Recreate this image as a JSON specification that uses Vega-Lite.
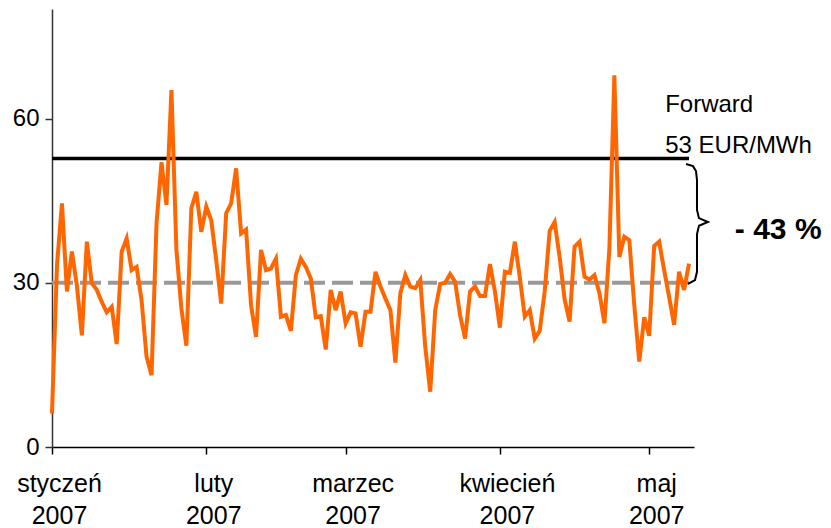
{
  "$schema": "https://vega.github.io/schema/vega-lite/v6.json",
  "width": 642,
  "height": 438,
  "autosize": {"type": "none"},
  "padding": {"left": 52, "top": 9, "right": 137, "bottom": 81},
  "background": "white",
  "config": {
    "view": {"stroke": null},
    "font": "Liberation Sans, Arial, sans-serif",
    "axis": {"labelFont": "Liberation Sans, Arial, sans-serif", "labelColor": "black"}
  },
  "datasets": {
    "prices": [
      {"date":"2007/01/01","price":6.1},{"date":"2007/01/02","price":33.2},{"date":"2007/01/03","price":44.5},{"date":"2007/01/04","price":28.4},{"date":"2007/01/05","price":35.7},{"date":"2007/01/06","price":29.5},{"date":"2007/01/07","price":20.4},{"date":"2007/01/08","price":37.5},{"date":"2007/01/09","price":29.9},{"date":"2007/01/10","price":28.7},{"date":"2007/01/11","price":26.5},{"date":"2007/01/12","price":24.6},{"date":"2007/01/13","price":25.6},{"date":"2007/01/14","price":18.8},{"date":"2007/01/15","price":35.7},{"date":"2007/01/16","price":38.1},{"date":"2007/01/17","price":32.3},{"date":"2007/01/18","price":32.9},{"date":"2007/01/19","price":26.8},{"date":"2007/01/20","price":16.5},{"date":"2007/01/21","price":13.1},{"date":"2007/01/22","price":40.8},{"date":"2007/01/23","price":52.0},{"date":"2007/01/24","price":44.2},{"date":"2007/01/25","price":65.2},{"date":"2007/01/26","price":36.0},{"date":"2007/01/27","price":25.3},{"date":"2007/01/28","price":18.5},{"date":"2007/01/29","price":43.6},{"date":"2007/01/30","price":46.6},{"date":"2007/01/31","price":39.3},
      {"date":"2007/02/01","price":43.9},{"date":"2007/02/02","price":41.4},{"date":"2007/02/03","price":34.1},{"date":"2007/02/04","price":26.2},{"date":"2007/02/05","price":42.7},{"date":"2007/02/06","price":44.5},{"date":"2007/02/07","price":50.9},{"date":"2007/02/08","price":39.0},{"date":"2007/02/09","price":39.7},{"date":"2007/02/10","price":25.9},{"date":"2007/02/11","price":20.1},{"date":"2007/02/12","price":36.0},{"date":"2007/02/13","price":32.3},{"date":"2007/02/14","price":32.6},{"date":"2007/02/15","price":34.4},{"date":"2007/02/16","price":23.8},{"date":"2007/02/17","price":24.1},{"date":"2007/02/18","price":21.2},{"date":"2007/02/19","price":31.4},{"date":"2007/02/20","price":34.4},{"date":"2007/02/21","price":32.9},{"date":"2007/02/22","price":30.8},{"date":"2007/02/23","price":23.7},{"date":"2007/02/24","price":23.9},{"date":"2007/02/25","price":17.8},{"date":"2007/02/26","price":28.7},{"date":"2007/02/27","price":25.0},{"date":"2007/02/28","price":28.4},
      {"date":"2007/03/01","price":22.6},{"date":"2007/03/02","price":24.6},{"date":"2007/03/03","price":24.4},{"date":"2007/03/04","price":18.3},{"date":"2007/03/05","price":24.7},{"date":"2007/03/06","price":24.7},{"date":"2007/03/07","price":32.0},{"date":"2007/03/08","price":29.3},{"date":"2007/03/09","price":27.1},{"date":"2007/03/10","price":25.0},{"date":"2007/03/11","price":15.4},{"date":"2007/03/12","price":28.1},{"date":"2007/03/13","price":31.4},{"date":"2007/03/14","price":29.3},{"date":"2007/03/15","price":29.0},{"date":"2007/03/16","price":30.5},{"date":"2007/03/17","price":18.3},{"date":"2007/03/18","price":10.1},{"date":"2007/03/19","price":25.0},{"date":"2007/03/20","price":29.8},{"date":"2007/03/21","price":30.0},{"date":"2007/03/22","price":31.6},{"date":"2007/03/23","price":30.2},{"date":"2007/03/24","price":24.1},{"date":"2007/03/25","price":19.8},{"date":"2007/03/26","price":28.4},{"date":"2007/03/27","price":29.3},{"date":"2007/03/28","price":27.6},{"date":"2007/03/29","price":27.6},{"date":"2007/03/30","price":33.4},{"date":"2007/03/31","price":28.4},
      {"date":"2007/04/01","price":21.8},{"date":"2007/04/02","price":32.0},{"date":"2007/04/03","price":31.8},{"date":"2007/04/04","price":37.5},{"date":"2007/04/05","price":31.0},{"date":"2007/04/06","price":23.8},{"date":"2007/04/07","price":25.0},{"date":"2007/04/08","price":19.8},{"date":"2007/04/09","price":21.2},{"date":"2007/04/10","price":28.4},{"date":"2007/04/11","price":39.5},{"date":"2007/04/12","price":41.1},{"date":"2007/04/13","price":34.7},{"date":"2007/04/14","price":27.0},{"date":"2007/04/15","price":22.9},{"date":"2007/04/16","price":36.6},{"date":"2007/04/17","price":37.5},{"date":"2007/04/18","price":31.1},{"date":"2007/04/19","price":30.6},{"date":"2007/04/20","price":31.4},{"date":"2007/04/21","price":28.1},{"date":"2007/04/22","price":22.6},{"date":"2007/04/23","price":36.3},{"date":"2007/04/24","price":67.9},{"date":"2007/04/25","price":34.7},{"date":"2007/04/26","price":38.4},{"date":"2007/04/27","price":37.8},{"date":"2007/04/28","price":25.9},{"date":"2007/04/29","price":15.6},{"date":"2007/04/30","price":23.7},
      {"date":"2007/05/01","price":20.3},{"date":"2007/05/02","price":36.7},{"date":"2007/05/03","price":37.5},{"date":"2007/05/04","price":32.3},{"date":"2007/05/05","price":27.4},{"date":"2007/05/06","price":22.3},{"date":"2007/05/07","price":32.0},{"date":"2007/05/08","price":28.7},{"date":"2007/05/09","price":33.5}
    ],
    "levels": [
      {"name":"forward","start":"2007/01/01","end":"2007/05/09","value":52.7},
      {"name":"average","start":"2007/01/01","end":"2007/05/10","value":30}
    ],
    "brace": [
      {"i":1,"date":"2007/05/08 09:36","v":51.7},
      {"i":2,"date":"2007/05/09 19:12","v":51.3},
      {"i":3,"date":"2007/05/10 09:36","v":50.4},
      {"i":4,"date":"2007/05/10 14:24","v":48.8},
      {"i":5,"date":"2007/05/10 14:24","v":43.3},
      {"i":6,"date":"2007/05/11 00:00","v":41.8},
      {"i":7,"date":"2007/05/12 19:12","v":41.1},
      {"i":8,"date":"2007/05/11 00:00","v":40.4},
      {"i":9,"date":"2007/05/10 14:24","v":38.9},
      {"i":10,"date":"2007/05/10 14:24","v":32.0},
      {"i":11,"date":"2007/05/10 04:48","v":30.5},
      {"i":12,"date":"2007/05/08 19:12","v":29.8}
    ],
    "notes": [
      {"text":"Forward","date":"2007/05/04 05:00","v":61.2,"kind":"plain"},
      {"text":"53 EUR/MWh","date":"2007/05/04 05:00","v":53.7,"kind":"plain"},
      {"text":"- 43 %","date":"2007/05/18 05:00","v":38.0,"kind":"bold"}
    ]
  },
  "layer": [
    {
      "data": {"name": "levels"},
      "transform": [{"filter": "datum.name === 'average'"}],
      "mark": {"type": "rule", "color": "#999999", "strokeWidth": 4, "strokeDash": [21, 7]},
      "encoding": {
        "x": {"field": "start", "type": "temporal",
          "scale": {"domain": [{"year":2007,"month":1,"date":1},{"year":2007,"month":5,"date":10}]},
          "axis": {
            "title": null,
            "grid": false,
            "values": [{"year":2007,"month":1,"date":1},{"year":2007,"month":2,"date":1},{"year":2007,"month":3,"date":1},{"year":2007,"month":4,"date":1},{"year":2007,"month":5,"date":1}],
            "labelExpr": "[['styczeń','luty','marzec','kwiecień','maj'][month(datum.value)], '2007']",
            "labelFontSize": 25,
            "labelLineHeight": 32,
            "labelBaseline": "top",
            "labelPadding": 17,
            "labelOffset": 7,
            "labelFlush": false,
            "labelOverlap": false,
            "labelBound": false,
            "domainColor": "black",
            "domainWidth": 1.5,
            "tickColor": "black",
            "tickWidth": 1.5,
            "tickSize": 7
          }
        },
        "x2": {"field": "end"},
        "y": {"field": "value", "type": "quantitative",
          "scale": {"domain": [0, 80], "nice": false},
          "axis": {
            "title": null,
            "grid": false,
            "values": [0, 30, 60],
            "labelFontSize": 24,
            "labelPadding": 6,
            "labelDy": 1,
            "domainColor": "#333333",
            "domainWidth": 1.5,
            "tickColor": "#333333",
            "tickWidth": 1.5,
            "tickSize": 7
          }
        }
      }
    },
    {
      "data": {"name": "levels"},
      "transform": [{"filter": "datum.name === 'forward'"}],
      "mark": {"type": "rule", "color": "black", "strokeWidth": 3.5},
      "encoding": {
        "x": {"field": "start", "type": "temporal"},
        "x2": {"field": "end"},
        "y": {"field": "value", "type": "quantitative"}
      }
    },
    {
      "data": {"name": "prices"},
      "mark": {"type": "line", "color": "#ff6600", "strokeWidth": 4, "strokeJoin": "miter", "strokeMiterLimit": 4},
      "encoding": {
        "x": {"field": "date", "type": "temporal"},
        "y": {"field": "price", "type": "quantitative"}
      }
    },
    {
      "data": {"name": "brace"},
      "mark": {"type": "line", "color": "black", "strokeWidth": 2, "interpolate": "linear", "clip": false},
      "encoding": {
        "x": {"field": "date", "type": "temporal"},
        "y": {"field": "v", "type": "quantitative"},
        "order": {"field": "i", "type": "quantitative"}
      }
    },
    {
      "data": {"name": "notes"},
      "transform": [{"filter": "datum.kind === 'plain'"}],
      "mark": {"type": "text", "align": "left", "baseline": "alphabetic", "fontSize": 24, "color": "black", "font": "Liberation Sans, Arial, sans-serif"},
      "encoding": {
        "x": {"field": "date", "type": "temporal"},
        "y": {"field": "v", "type": "quantitative"},
        "text": {"field": "text"}
      }
    },
    {
      "data": {"name": "notes"},
      "transform": [{"filter": "datum.kind === 'bold'"}],
      "mark": {"type": "text", "align": "left", "baseline": "alphabetic", "fontSize": 30, "fontWeight": "bold", "color": "black", "font": "Liberation Sans, Arial, sans-serif"},
      "encoding": {
        "x": {"field": "date", "type": "temporal"},
        "y": {"field": "v", "type": "quantitative"},
        "text": {"field": "text"}
      }
    }
  ]
}
